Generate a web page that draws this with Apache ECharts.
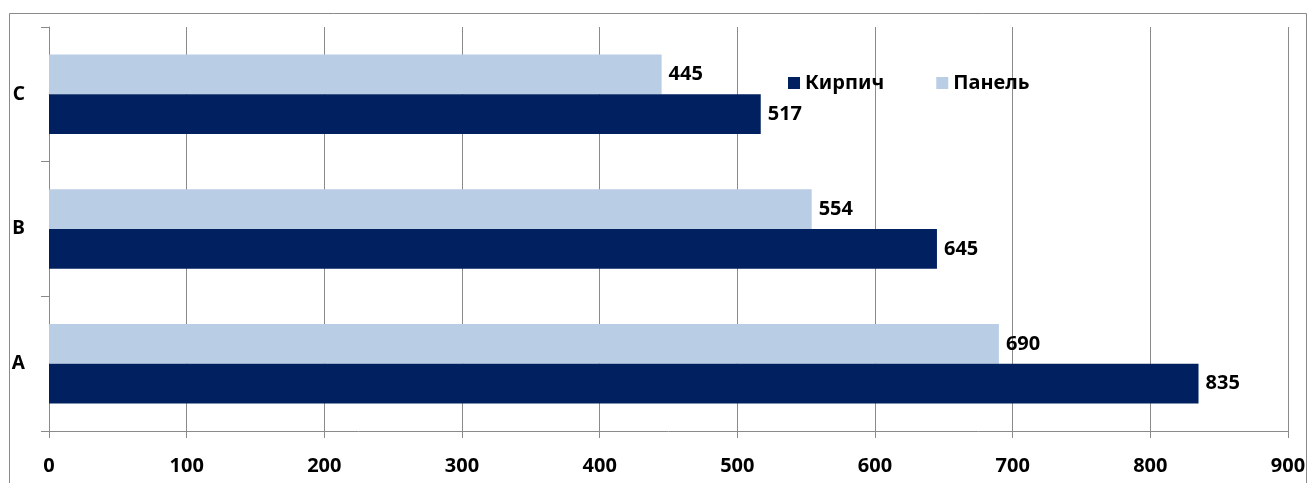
<!DOCTYPE html>
<html>
<head>
<meta charset="utf-8">
<script src="https://cdn.jsdelivr.net/npm/echarts@6/dist/echarts.min.js"></script>
<style>
    html, body { margin: 0; padding: 0; background: #fff; }
    #chart { width: 1311px; height: 483px; }
</style>
</head>
<body>
<div id="chart"></div>
<script>
    // категории снизу вверх
    var categories = ['A', 'B', 'C'];
    var kirpich = [835, 645, 517];
    var panel = [690, 554, 445];
    var xTicks = [0, 100, 200, 300, 400, 500, 600, 700, 800, 900];

    var font = '"Noto Sans", "DejaVu Sans", sans-serif';
    var chart = echarts.init(document.getElementById('chart'));

    var labelStyle = { show: true, position: 'right', distance: 7, color: '#000', fontSize: 20, fontWeight: 'bold', fontFamily: font };

    chart.setOption({
        animation: false,
        textStyle: { fontFamily: font },
        graphic: [{
            type: 'rect',
            shape: { x: 9.5, y: 13.5, width: 1297, height: 500 },
            style: { fill: 'none', stroke: '#8a8a8a', lineWidth: 1 },
            silent: true
        }],
        legend: {
            data: ['Кирпич', 'Панель'],
            left: 783,
            top: 68,
            itemWidth: 12,
            itemHeight: 12,
            itemGap: 52,
            icon: 'rect',
            textStyle: { fontFamily: font, fontSize: 20, fontWeight: 'bold', color: '#000' }
        },
        grid: { left: 49, right: 23, top: 27, bottom: 52 },
        xAxis: {
            type: 'value',
            min: xTicks[0],
            max: xTicks[xTicks.length - 1],
            interval: 100,
            axisLine: { show: true, lineStyle: { color: '#8a8a8a' } },
            axisTick: { show: true, length: 7, lineStyle: { color: '#8a8a8a' } },
            axisLabel: { color: '#000', fontSize: 20, fontWeight: 'bold', margin: 25, fontFamily: font },
            splitLine: { show: true, lineStyle: { color: '#8a8a8a' } }
        },
        yAxis: {
            type: 'category',
            data: categories,
            axisLine: { show: true, lineStyle: { color: '#8a8a8a' } },
            axisTick: { show: true, length: 8, lineStyle: { color: '#8a8a8a' } },
            axisLabel: { color: '#000', fontSize: 19, fontWeight: 'bold', margin: 24, fontFamily: font }
        },
        series: [
            {
                name: 'Панель',
                type: 'bar',
                data: panel,
                barGap: '0%',
                barCategoryGap: '41%',
                itemStyle: { color: '#b9cde5' },
                label: labelStyle
            },
            {
                name: 'Кирпич',
                type: 'bar',
                data: kirpich,
                barGap: '0%',
                barCategoryGap: '41%',
                itemStyle: { color: '#00205f' },
                label: labelStyle
            }
        ]
    });
</script>
</body>
</html>
